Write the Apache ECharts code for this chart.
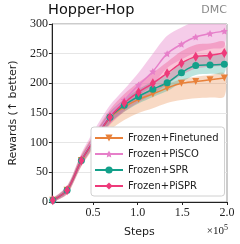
<!DOCTYPE html>
<html><head><meta charset="utf-8">
<script src="https://cdn.jsdelivr.net/npm/echarts@6/dist/echarts.min.js"></script>
<style>html,body{margin:0;padding:0;background:#fff}#c{width:240px;height:244px}</style>
</head><body><div id="c"></div>
<script>
const steps = [5000,21000,37000,53000,69000,85000,101000,117000,133000,149000,165000,181000,197000];
const xTicks = [50000,100000,150000,200000];
const yTicks = [0,50,100,150,200,250,300];

const finetunedMean  = [3,20,70,108,142,160,173,182,192,200,203,206,209];
const finetunedLower = [0,13,60,95,121,138,150,158,167,172,175,176,178];
const finetunedUpper = [6,27,80,118,150,167,180,190,199,207,211,214,217];

const piscoMean  = [3,20,71,112,147,172,197,220,250,266,278,284,288];
const piscoLower = [0,14,61,100,132,155,178,198,226,240,252,258,262];
const piscoUpper = [7,27,82,125,163,190,218,250,280,294,305,310,312];

const sprMean  = [3,20,70,108,143,163,178,190,201,218,230,231,232];
const sprLower = [0,15,63,99,133,152,166,177,187,202,214,216,217];
const sprUpper = [6,25,77,116,152,173,190,203,215,233,245,246,247];

const pisprMean  = [3,20,70,108,143,167,185,200,217,234,245,247,251];
const pisprLower = [0,14,61,97,130,152,168,182,198,214,225,228,232];
const pisprUpper = [6,26,79,119,156,182,202,218,236,254,265,267,270];

const defs = [
  {name:'Frozen+Finetuned', color:'#e8813a', mean:finetunedMean, lo:finetunedLower, hi:finetunedUpper,
   symbol:'path://M0,10 L-10,-7 L10,-7 Z', size:7, bandOp:0.3},
  {name:'Frozen+PiSCO', color:'#e67fc9', mean:piscoMean, lo:piscoLower, hi:piscoUpper,
   symbol:'path://M0,-10 L2.9,-4 9.5,-3.1 4.7,1.5 5.9,8.1 0,5 -5.9,8.1 -4.7,1.5 -9.5,-3.1 -2.9,-4 Z', size:7, bandOp:0.4},
  {name:'Frozen+SPR', color:'#13a08a', mean:sprMean, lo:sprLower, hi:sprUpper,
   symbol:'circle', size:7, bandOp:0.28},
  {name:'Frozen+PiSPR', color:'#ee3a7a', mean:pisprMean, lo:pisprLower, hi:pisprUpper,
   symbol:'diamond', size:[6,10], bandOp:0.3}
];

const series = [];
defs.forEach((d,i)=>{
  series.push({type:'custom', silent:true, z:1, clip:true,
    data:[[steps[0], d.lo[0]]],
    renderItem:(params, api)=>{
      const up = steps.map((s,j)=>api.coord([s, d.hi[j]]));
      const lo = steps.map((s,j)=>api.coord([s, d.lo[j]])).reverse();
      const cs = params.coordSys;
      return {type:'group', children:[
        {type:'polyline', shape:{points:up.concat(lo), smooth:0.3}, style:{fill:d.color, opacity:d.bandOp, stroke:null}}
      ], clipPath:{type:'rect', shape:{x:cs.x, y:cs.y, width:cs.width, height:cs.height}}};
    }
  });
});
defs.forEach(d=>{
  series.push({name:d.name, type:'line', data:steps.map((s,j)=>[s,d.mean[j]]), smooth:0.3,
    symbol:d.symbol, symbolSize:d.size, showAllSymbol:true,
    itemStyle:{color:d.color}, lineStyle:{color:d.color, width:1.5}, z:3});
});

const chart = echarts.init(document.getElementById('c'), null, {renderer:'canvas'});
chart.setOption({
  animation:false,
  backgroundColor:'#fff',
  grid:{left:49, right:13, top:24, bottom:42, show:true, borderColor:'#999', borderWidth:1, backgroundColor:'transparent'},
  xAxis:{type:'value', min:4000, max:200000,
    axisLine:{show:true, lineStyle:{color:'#222', width:1}},
    axisTick:{show:true, length:3, lineStyle:{color:'#222'}, customValues:xTicks},
    axisLabel:{customValues:xTicks, formatter:v=>(v/1e5).toFixed(1), fontFamily:'Liberation Serif', fontSize:12, color:'#222', margin:5},
    splitLine:{show:false},
    name:'Steps', nameLocation:'middle', nameGap:25, nameTextStyle:{fontFamily:'DejaVu Sans', fontSize:11, color:'#222'}},
  yAxis:{type:'value', min:0, max:300, interval:50,
    axisLine:{show:true, lineStyle:{color:'#222', width:1}},
    axisTick:{show:true, length:3, lineStyle:{color:'#222'}},
    axisLabel:{fontFamily:'Liberation Serif', fontSize:12, color:'#222', margin:4, customValues:yTicks},
    splitLine:{show:true, lineStyle:{color:'#e6e6e6', width:1}},
    name:'Rewards (↑ better)', nameLocation:'middle', nameGap:29, nameTextStyle:{fontFamily:'DejaVu Sans', fontSize:11, color:'#222'}},
  legend:{data:defs.map(d=>d.name), orient:'vertical', left:91, top:127, itemWidth:28, itemHeight:9, itemGap:6,
    backgroundColor:'#fff', borderColor:'#d0d0d0', borderWidth:1, borderRadius:3, padding:[6,6,5,3],
    textStyle:{fontFamily:'DejaVu Sans', fontSize:10, color:'#222'}},
  graphic:[
    {type:'text', left:48, top:3, style:{text:'Hopper-Hop', font:'14.5px "DejaVu Sans"', fill:'#111'}},
    {type:'text', right:13, top:5, style:{text:'DMC', font:'11px "DejaVu Sans"', fill:'#888'}},
    {type:'text', right:12, top:224, style:{text:'×10{s|5}', rich:{s:{fontSize:8, fontFamily:'Liberation Serif', verticalAlign:'top', padding:[0,0,6,0]}}, font:'11px "Liberation Serif"', fill:'#222'}}
  ],
  series
});
</script></body></html>
